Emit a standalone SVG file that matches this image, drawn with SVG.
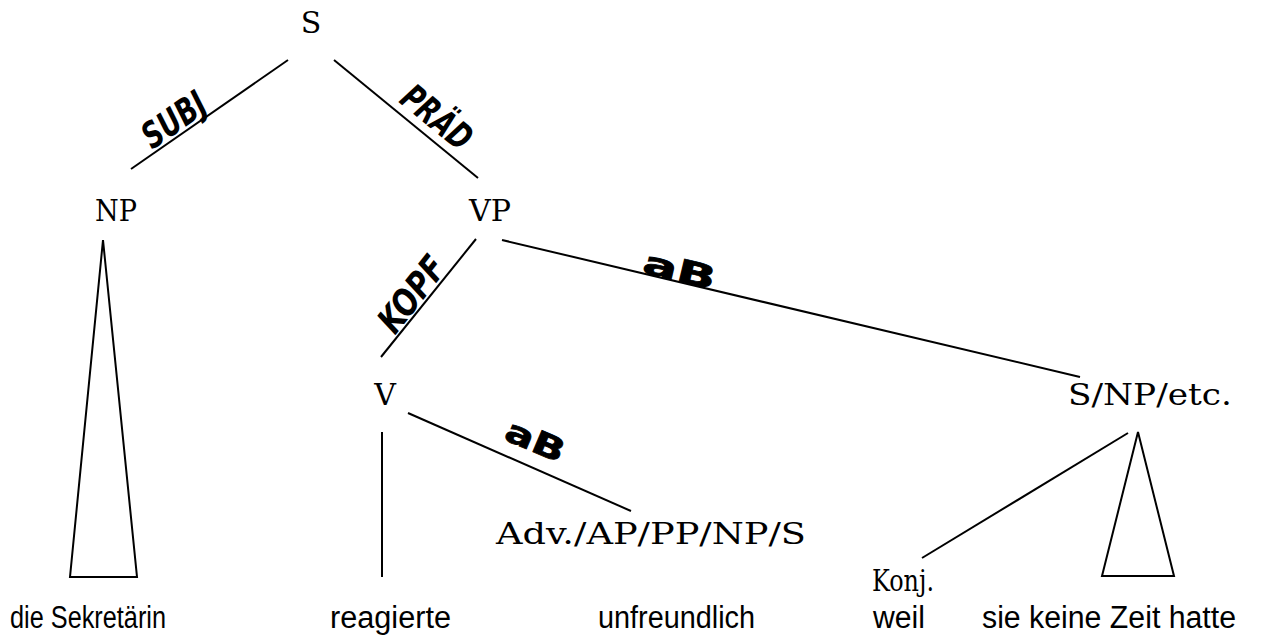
<svg xmlns="http://www.w3.org/2000/svg" width="1263" height="641" viewBox="0 0 1263 641">
<style>
.n{font-family:"DejaVu Serif","Liberation Serif",serif;font-size:30px;fill:#000;text-anchor:middle}
.w{font-family:"Liberation Sans",Arial,sans-serif;font-size:31px;fill:#000}
.f{font-family:"DejaVu Sans Condensed","DejaVu Sans",sans-serif;font-weight:bold;font-style:italic;font-stretch:condensed;font-size:36px;fill:#000;text-anchor:middle}
.a{font-family:"DejaVu Sans","Liberation Sans",sans-serif;font-weight:bold;font-size:32px;fill:#000;text-anchor:middle;stroke:#000;stroke-width:0.8}
.l{stroke:#000;stroke-width:2;fill:none}
.t{stroke:#000;stroke-width:2;fill:none;stroke-linejoin:miter}
</style>
<rect width="1263" height="641" fill="#fff"/>
<g id="connectors">
 <line class="l" x1="288" y1="60" x2="131" y2="169"/>
 <line class="l" x1="334" y1="60" x2="478" y2="178"/>
 <line class="l" x1="476" y1="239" x2="381" y2="357"/>
 <line class="l" x1="502" y1="240" x2="1080" y2="377"/>
 <line class="l" x1="408" y1="413" x2="631" y2="511"/>
 <line class="l" x1="382" y1="432" x2="382" y2="577"/>
 <line class="l" x1="1128" y1="433" x2="922" y2="558" stroke-width="1.5"/>
 <polygon class="t" points="103,240 137,577 70,577"/>
 <polygon class="t" points="1138,432 1174,576 1102,576"/>
</g>
<g id="edge-labels">
 <text id="lbl-subj" class="f" x="0" y="0" textLength="70" lengthAdjust="spacingAndGlyphs" transform="translate(181,130) rotate(-34.8)">SUBJ</text>
 <text id="lbl-praed" class="f" x="0" y="0" textLength="80" lengthAdjust="spacingAndGlyphs" transform="translate(429,127) rotate(39.3)">PRÄD</text>
 <text id="lbl-kopf" class="f" x="0" y="0" textLength="86" lengthAdjust="spacingAndGlyphs" transform="translate(421.5,302) rotate(-51.8)">KOPF</text>
 <text id="lbl-ab1" class="a" x="0" y="0" textLength="74" lengthAdjust="spacingAndGlyphs" transform="translate(677,281) rotate(13.4)">aB</text>
 <text id="lbl-ab2" class="a" x="0" y="0" textLength="62" lengthAdjust="spacingAndGlyphs" transform="translate(531,451) rotate(23)">aB</text>
</g>
<g id="node-S"><text class="n" x="311" y="33">S</text></g>
<g id="node-NP"><text class="n" x="116" y="221" textLength="42" lengthAdjust="spacingAndGlyphs">NP</text></g>
<g id="node-VP"><text class="n" x="490" y="221" textLength="42" lengthAdjust="spacingAndGlyphs">VP</text></g>
<g id="node-V"><text class="n" x="385" y="405">V</text></g>
<g id="node-SNP"><text class="n" x="1150" y="405" textLength="164" lengthAdjust="spacingAndGlyphs">S/NP/etc.</text></g>
<g id="node-Adv"><text class="n" x="651" y="544" textLength="310" lengthAdjust="spacingAndGlyphs">Adv./AP/PP/NP/S</text></g>
<g id="node-Konj"><text class="n" x="872" y="591" style="text-anchor:start" textLength="62" lengthAdjust="spacingAndGlyphs">Konj.</text></g>
<g id="words">
 <text class="w" x="10" y="628" textLength="156" lengthAdjust="spacingAndGlyphs">die Sekretärin</text>
 <text class="w" x="330" y="628" textLength="121" lengthAdjust="spacingAndGlyphs">reagierte</text>
 <text class="w" x="598" y="628" textLength="157" lengthAdjust="spacingAndGlyphs">unfreundlich</text>
 <text class="w" x="873" y="628" textLength="52" lengthAdjust="spacingAndGlyphs">weil</text>
 <text class="w" x="982" y="628" textLength="254" lengthAdjust="spacingAndGlyphs">sie keine Zeit hatte</text>
</g>
</svg>
